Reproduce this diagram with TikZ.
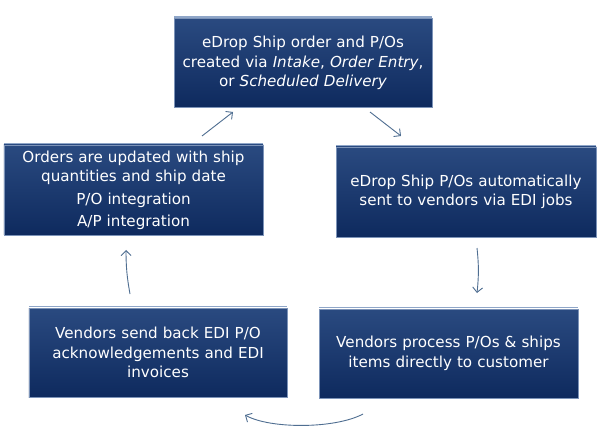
\documentclass[tikz,border=0pt]{standalone}
\usepackage{fontspec}
\setmainfont{DejaVu Sans}
\usetikzlibrary{arrows.meta}
\definecolor{boxtop}{HTML}{2A4A80}
\definecolor{boxbot}{HTML}{0E2A5E}
\definecolor{boxedge}{HTML}{7C93B8}
\definecolor{boxhl}{HTML}{8FA6C8}
\definecolor{arrowc}{HTML}{4F6E91}
\tikzset{
  flowbox/.style={rectangle, draw=boxedge, line width=0.6pt,
    top color=boxtop, bottom color=boxbot, text=white, align=center,
    inner sep=0pt, font=\fontsize{15.2}{19.5}\selectfont},
  flowarrow/.style={draw=arrowc, line width=0.9pt,
    -{Straight Barb[length=5pt,width=10pt]}},
  hlline/.style={boxhl, line width=1.4pt}
}
\begin{document}
\begin{tikzpicture}[x=1bp,y=-1bp]
\useasboundingbox[fill=white] (0,0) rectangle (600,440);

\node[flowbox, minimum width=258bp, minimum height=89bp, text width=258bp] (top) at (303,63)
  {eDrop Ship order and P/Os\\ created via \textit{Intake}, \textit{Order Entry},\\ or \textit{Scheduled Delivery}};
\node[flowbox, minimum width=259bp, minimum height=90bp, text width=259bp] (lm) at (133.5,190)
  {Orders are updated with ship\\ quantities and ship date\\[4bp] P/O integration\\[2bp] A/P integration};
\node[flowbox, minimum width=260bp, minimum height=90bp, text width=260bp] (rm) at (466,192)
  {eDrop Ship P/Os automatically\\ sent to vendors via EDI jobs};
\node[flowbox, minimum width=258bp, minimum height=89bp, text width=258bp] (bl) at (158,352.5)
  {Vendors send back EDI P/O\\ acknowledgements and EDI\\ invoices};
\node[flowbox, minimum width=259bp, minimum height=89bp, text width=259bp] (br) at (448.5,353.5)
  {Vendors process P/Os \& ships\\ items directly to customer};

\foreach \n in {top,lm,rm,bl,br}{
  \draw[hlline] ([xshift=0.6bp,yshift=1.2bp]\n.north west) -- ([xshift=-0.6bp,yshift=1.2bp]\n.north east);
}

\coordinate (a1s) at (202,136);
\coordinate (a1e) at (233,112);
\coordinate (a2s) at (370,112);
\coordinate (a2e) at (401,136);
\coordinate (a3s) at (477,248);
\coordinate (a3e) at (477,293);
\coordinate (a4s) at (363,414);
\coordinate (a4e) at (245,415);
\coordinate (a5s) at (130,294);
\coordinate (a5e) at (126,250);

\draw[flowarrow] (a1s) -- (a1e);
\draw[flowarrow] (a2s) -- (a2e);
\draw[flowarrow] (a3s) to[bend left=6] (a3e);
\draw[flowarrow] (a4s) .. controls (335,429) and (270,429) .. (a4e);
\draw[flowarrow] (a5s) to[bend left=5] (a5e);
\end{tikzpicture}
\end{document}
